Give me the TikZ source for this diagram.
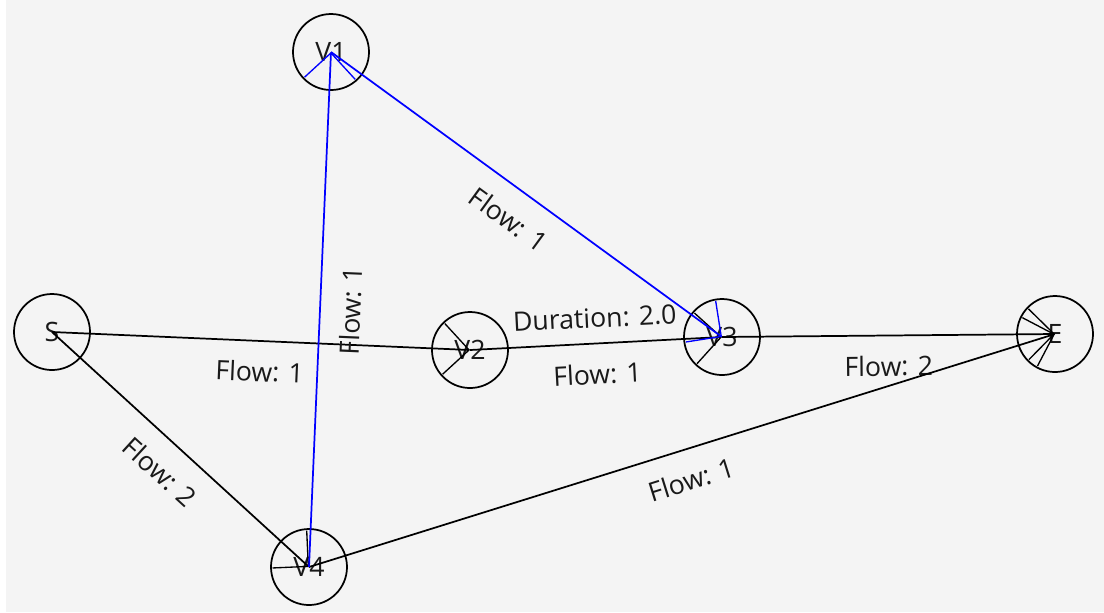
\documentclass[tikz,border=0pt]{standalone}
\usepackage{fontspec}
\setmainfont{Open Sans}
\usetikzlibrary{arrows.meta}
\definecolor{panelgray}{RGB}{244,244,244}
\definecolor{labelink}{RGB}{25,25,25}
\begin{document}
\begin{tikzpicture}[x=0.75pt,y=-0.75pt,
  vertex/.style={circle,draw=black,line width=1.3pt,minimum size=57pt,inner sep=0pt,
    text=labelink,font=\fontsize{20}{24}\selectfont},
  flowedge/.style={line width=1.3pt,draw=black,
    -{Straight Barb[length=19pt,width=38pt,line width=1pt]}},
  blueedge/.style={flowedge,draw=blue},
  lab/.style={font=\fontsize{20}{24}\selectfont,inner sep=0pt,text=labelink},
  under/.style={lab,sloped,anchor=north,inner ysep=14.5pt},
  over/.style={lab,sloped,anchor=south,inner ysep=11pt}]

  % canvas
  \fill[white] (0,0) rectangle (1104,612);
  \fill[panelgray] (6,0) rectangle (1104,612);
  \useasboundingbox (0,0) rectangle (1104,612);

  % vertices
  \node[vertex] (S)  at (52,332)   {S};
  \node[vertex] (V1) at (331,52)   {V1};
  \node[vertex] (V2) at (470,350)  {V2};
  \node[vertex] (V3) at (722,337)  {V3};
  \node[vertex] (E)  at (1055,334) {E};
  \node[vertex] (V4) at (309,567)  {V4};

  % flows
  \draw[flowedge] (S.center) -- node[under]{Flow: 1} (V2.center);
  \draw[flowedge] (V2.center) -- node[under]{Flow: 1} node[over]{Duration: 2.0} (V3.center);
  \draw[flowedge] (V3.center) -- node[under]{Flow: 2} (E.center);
  \draw[flowedge] (S.center) -- node[under]{Flow: 2} (V4.center);
  \draw[flowedge] (V4.center) -- node[under]{Flow: 1} (E.center);
  \draw[blueedge] (V1.center) -- node[under]{Flow: 1} (V3.center);
  \draw[blueedge] (V4.center) -- node[under]{Flow: 1} (V1.center);
\end{tikzpicture}
\end{document}
